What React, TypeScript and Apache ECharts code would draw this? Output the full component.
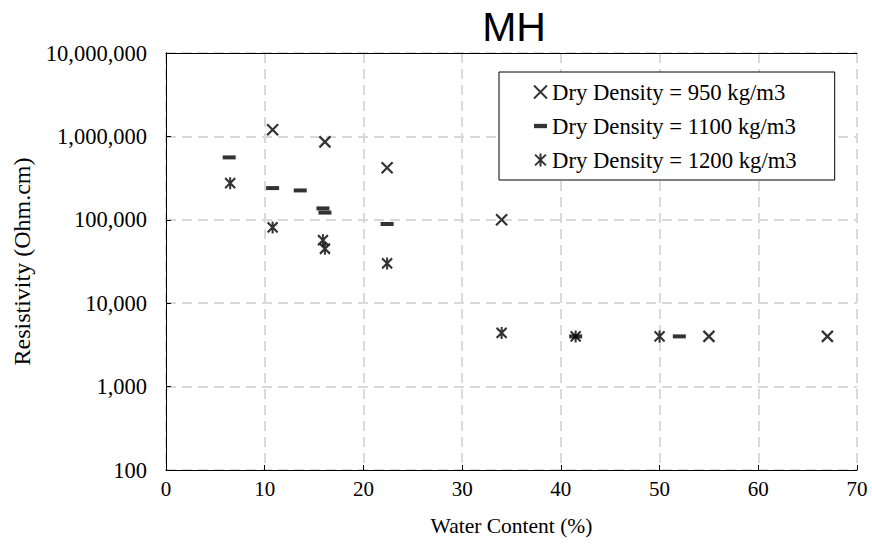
import React, { useEffect, useRef } from "react";
import * as echarts from "echarts";

const chartTitle = "MH";
const xAxisTitle = "Water Content (%)";
const yAxisTitle = "Resistivity (Ohm.cm)";
const seriesNames = [
  "Dry Density = 950 kg/m3",
  "Dry Density = 1100 kg/m3",
  "Dry Density = 1200 kg/m3",
];

const water950 = [10.8, 16.1, 22.4, 34, 55, 67];
const resist950 = [1200000, 860000, 420000, 100000, 4000, 4000];

const water1100 = [6.4, 10.8, 13.6, 15.9, 16.1, 22.4, 41.5, 52];
const resist1100 = [560000, 240000, 225000, 137000, 122000, 89000, 4000, 4000];

const water1200 = [6.5, 10.8, 15.9, 16.1, 22.4, 34, 41.5, 50];
const resist1200 = [275000, 81000, 57000, 45000, 30000, 4400, 4000, 4000];

const xTicks = [0, 10, 20, 30, 40, 50, 60, 70];
const yTicks = [100, 1000, 10000, 100000, 1000000, 10000000];

const SERIF = "Liberation Serif";

const crossPath = "path://M0,0 L10,10 M10,0 L0,10";
const dashPath = "path://M0,0 L12,0 L12,4 L0,4 Z";
const starPath = "path://M0,1 L10,11 M10,1 L0,11 M5,0 L5,12";

function zip(xs: number[], ys: number[]) {
  return xs.map((x, i) => [x, ys[i]]);
}

export default function App() {
  const ref = useRef<HTMLDivElement>(null);
  useEffect(() => {
    if (!ref.current) return;
    const chart = echarts.init(ref.current, undefined, { renderer: "svg" });
    const strokeStyle = { color: "transparent", borderColor: "#000", borderWidth: 2.2 };
    const legendText = { fontFamily: SERIF, fontSize: 22.7, color: "#000", lineHeight: 24 };
    const dashed = { show: true, lineStyle: { color: "#d9d9d9", width: 2, type: [10, 6] } };
    chart.setOption({
      animation: false,
      backgroundColor: "#fff",
      textStyle: { fontFamily: SERIF, color: "#000" },
      title: {
        text: chartTitle,
        left: 509,
        textAlign: "center",
        top: 1,
        textStyle: {
          fontFamily: "Liberation Sans",
          fontSize: 41,
          fontWeight: "normal",
          color: "#000",
        },
      },
      grid: {
        left: 166,
        right: 15,
        top: 53,
        bottom: 76,
      },
      legend: {
        orient: "vertical",
        left: 499,
        top: 72,
        backgroundColor: "#fff",
        borderColor: "#000",
        borderWidth: 1,
        borderRadius: 0,
        padding: [8, 38, 8, 34],
        itemWidth: 13,
        itemHeight: 13,
        itemGap: 10,
        textStyle: legendText,
        data: [
          { name: seriesNames[0], icon: crossPath },
          { name: seriesNames[1], icon: dashPath },
          { name: seriesNames[2], icon: starPath },
        ],
      },
      xAxis: [
        {
          type: "value",
          min: xTicks[0],
          max: xTicks[xTicks.length - 1],
          interval: 10,
          name: xAxisTitle,
          nameLocation: "middle",
          nameGap: 45,
          nameTextStyle: { fontFamily: SERIF, fontSize: 21.5, color: "#000" },
          axisLine: { lineStyle: { color: "#000", width: 1 } },
          axisTick: { inside: true, length: 5, lineStyle: { color: "#000" } },
          axisLabel: { fontFamily: SERIF, fontSize: 21, color: "#000", margin: 8 },
          splitLine: dashed,
        },
        {
          type: "value",
          position: "top",
          min: xTicks[0],
          max: xTicks[xTicks.length - 1],
          interval: 10,
          axisLine: { show: true, lineStyle: { color: "#000", width: 1 } },
          axisTick: { show: false },
          axisLabel: { show: false },
          splitLine: { show: false },
        },
      ],
      yAxis: [
        {
          type: "log",
          logBase: 10,
          min: yTicks[0],
          max: yTicks[yTicks.length - 1],
          name: yAxisTitle,
          nameLocation: "middle",
          nameGap: 132,
          nameTextStyle: { fontFamily: SERIF, fontSize: 24, color: "#000" },
          axisLine: { show: true, lineStyle: { color: "#000", width: 1 } },
          axisTick: { show: true, inside: true, length: 5, lineStyle: { color: "#000" } },
          minorTick: { show: false },
          axisLabel: {
            fontFamily: SERIF,
            fontSize: 22.5,
            color: "#000",
            margin: 19,
            formatter: (v: number) => Math.round(v).toLocaleString("en-US"),
          },
          splitLine: dashed,
        },
        {
          type: "log",
          logBase: 10,
          position: "right",
          min: yTicks[0],
          max: yTicks[yTicks.length - 1],
          axisLine: { show: true, lineStyle: { color: "#000", width: 1 } },
          axisTick: { show: false },
          axisLabel: { show: false },
          splitLine: { show: false },
        },
      ],
      series: [
        {
          name: seriesNames[0],
          type: "scatter",
          data: zip(water950, resist950),
          symbol: crossPath,
          symbolSize: 11,
          itemStyle: strokeStyle,
          z: 3,
        },
        {
          name: seriesNames[1],
          type: "scatter",
          data: zip(water1100, resist1100),
          symbol: dashPath,
          symbolSize: [13, 4],
          itemStyle: { color: "#000" },
          z: 4,
        },
        {
          name: seriesNames[2],
          type: "scatter",
          data: zip(water1200, resist1200),
          symbol: starPath,
          symbolSize: [10, 12],
          itemStyle: strokeStyle,
          z: 5,
        },
      ],
    });
    return () => chart.dispose();
  }, []);
  return <div ref={ref} style={{ width: 872, height: 546, position: "absolute", left: 0, top: 0 }} />;
}
